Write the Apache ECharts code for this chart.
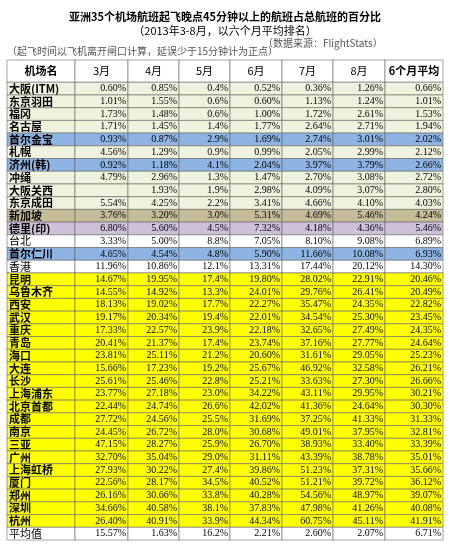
<!DOCTYPE html>
<html><head><meta charset="utf-8">
<script src="https://cdn.jsdelivr.net/npm/echarts@6/dist/echarts.min.js"></script>
<style>html,body{margin:0;padding:0;background:#fff}#c{width:450px;height:546px}</style>
</head><body><div id="c"></div>
<script>
const headers = ['机场名','3月','4月','5月','6月','7月','8月','6个月平均'];
const airports = ['大阪(ITM)','东京羽田','福冈','名古屋','首尔金宝','札幌','济州(韩)','冲绳','大阪关西','东京成田','新加坡','德里(印)','台北','首尔仁川','香港','昆明','乌鲁木齐','西安','武汉','重庆','青岛','海口','大连','长沙','上海浦东','北京首都','成都','南京','三亚','广州','上海虹桥','厦门','郑州','深圳','杭州','平均值'];
const mar = ['0.60%','1.01%','1.73%','1.71%','0.93%','4.56%','0.92%','4.79%','','5.54%','3.76%','6.80%','3.33%','4.65%','11.96%','14.67%','14.55%','18.13%','19.17%','17.33%','20.41%','23.81%','15.66%','25.61%','23.77%','22.44%','27.72%','24.45%','47.15%','32.70%','27.93%','22.56%','26.16%','34.66%','26.40%','15.57%'];
const apr = ['0.85%','1.55%','1.48%','1.45%','0.87%','1.29%','1.18%','2.96%','1.93%','4.25%','3.20%','5.60%','5.00%','4.54%','10.86%','19.95%','14.92%','19.02%','20.34%','22.57%','21.37%','25.11%','17.23%','25.46%','27.18%','24.74%','24.56%','26.72%','28.27%','35.04%','30.22%','28.17%','30.66%','40.58%','40.91%','1.63%'];
const may = ['0.4%','0.6%','0.6%','1.4%','2.9%','0.9%','4.1%','1.3%','1.9%','2.2%','3.0%','4.5%','8.8%','4.8%','12.1%','17.4%','13.3%','17.7%','19.4%','23.9%','17.4%','21.2%','19.2%','22.8%','23.0%','26.6%','25.5%','28.0%','25.9%','29.0%','27.4%','34.5%','33.8%','38.1%','33.9%','16.2%'];
const jun = ['0.52%','0.60%','1.00%','1.77%','1.69%','0.99%','2.04%','1.47%','2.98%','3.41%','5.31%','7.32%','7.05%','5.90%','13.31%','19.80%','24.01%','22.27%','22.01%','22.18%','23.74%','20.60%','25.67%','25.21%','34.22%','42.02%','31.69%','30.68%','26.70%','31.11%','39.86%','40.52%','40.28%','37.83%','44.34%','2.21%'];
const jul = ['0.36%','1.13%','1.72%','2.64%','2.74%','2.05%','3.97%','2.70%','4.09%','4.66%','4.69%','4.18%','8.10%','11.66%','17.44%','28.02%','29.76%','35.47%','34.54%','32.65%','37.16%','31.61%','46.92%','33.63%','43.11%','41.36%','37.25%','49.01%','38.93%','43.39%','51.23%','51.21%','54.56%','47.98%','60.75%','2.60%'];
const aug = ['1.26%','1.24%','2.61%','2.71%','3.01%','2.99%','3.79%','3.08%','3.07%','4.10%','5.46%','4.36%','9.08%','10.08%','20.12%','22.91%','26.41%','24.35%','25.30%','27.49%','27.77%','29.05%','32.58%','27.30%','29.95%','24.64%','41.33%','37.95%','33.40%','38.78%','37.31%','39.72%','48.97%','41.26%','45.11%','2.07%'];
const avg6 = ['0.66%','1.01%','1.53%','1.94%','2.02%','2.12%','2.66%','2.72%','2.80%','4.03%','4.24%','5.46%','6.89%','6.93%','14.30%','20.46%','20.49%','22.82%','23.45%','24.35%','24.64%','25.23%','26.21%','26.66%','30.21%','30.30%','31.33%','32.81%','33.39%','35.01%','35.66%','36.12%','39.07%','40.08%','41.91%','6.71%'];
const rowGroup = ['g','g','g','g','b','g','b','g','g','g','t','p','w','b','w','y','y','y','y','y','y','y','y','y','y','y','y','y','y','y','y','y','y','y','y','w'];

const groupColor = {g:'#eef3dd', b:'#8db4e2', t:'#c4bd97', p:'#ccc0da', w:'#ffffff', y:'#ffff00'};
const colEdges = [0,68,121,172,223,275,326,378,436];
const cols = [airports, mar, apr, may, jun, jul, aug, avg6];

const data = [];
for (let c = 0; c < 8; c++) {
  data.push([c, -1, headers[c], 'h']);
  for (let r = 0; r < airports.length; r++) data.push([c, r, cols[c][r], rowGroup[r]]);
}
const chart = echarts.init(document.getElementById('c'));
chart.setOption({
  animation:false,
  title:[
    {text:'亚洲35个机场航班起飞晚点45分钟以上的航班占总航班的百分比',left:'center',top:6,textStyle:{fontSize:11,fontWeight:'bold',color:'#000',fontFamily:'Noto Sans CJK SC'}},
    {text:'（2013年3-8月，以六个月平均排名）',left:'center',top:20,textStyle:{fontSize:11,fontWeight:'normal',color:'#000',fontFamily:'Noto Sans CJK SC'}},
    {text:'（数据来源：FlightStats）',left:258,top:33,textStyle:{fontSize:10,fontWeight:'normal',color:'#555',fontFamily:'Noto Sans CJK SC'}},
    {text:'（起飞时间以飞机离开闸口计算，延误少于15分钟计为正点）',left:2,top:41,textStyle:{fontSize:10,fontWeight:'normal',color:'#555',fontFamily:'Noto Sans CJK SC'}}
  ],
  grid:{left:7,right:7,top:60,bottom:6},
  xAxis:{type:'value',min:0,max:436,show:false},
  yAxis:{type:'value',min:-1.75,max:36,inverse:true,show:false},
  series:[{
    type:'custom',
    data:data,
    renderItem:function(params, api){
      const c = api.value(0), r = api.value(1);
      const txt = data[params.dataIndex][2], grp = data[params.dataIndex][3];
      const y0 = r < 0 ? -1.75 : r, y1 = r < 0 ? 0 : r + 1;
      const p0 = api.coord([colEdges[c], y0]), p1 = api.coord([colEdges[c+1], y1]);
      const w = p1[0]-p0[0], h = p1[1]-p0[1];
      const isHead = grp === 'h';
      const bold = isHead ? (c===0||c===7) : (c===0 && grp!=='w');
      return {type:'group',children:[
        {type:'rect',shape:{x:p0[0],y:p0[1],width:w,height:h},style:{fill:isHead?'#fff':groupColor[grp],stroke:'#666',lineWidth:0.6}},
        {type:'text',style:{
          text:txt,
          x: isHead ? p0[0]+w/2 : (c===0 ? p0[0]+2 : p1[0]-2),
          y: p0[1]+h/2,
          align: isHead ? 'center' : (c===0 ? 'left' : 'right'),
          verticalAlign:'middle',
          fontSize: isHead ? 11 : (c===0 ? 11 : 10),
          fontWeight: bold ? 'bold' : 'normal',
          fontFamily: c===0||isHead ? 'Noto Sans CJK SC' : 'Liberation Serif',
          fill: '#000'
        }}
      ]};
    }
  }]
});
</script></body></html>
